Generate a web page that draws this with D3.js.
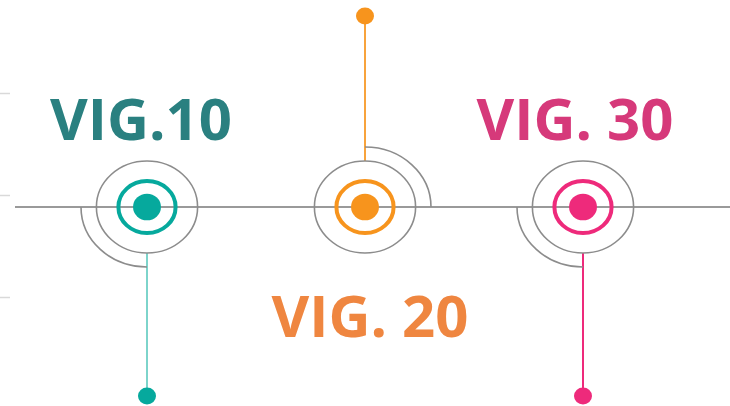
<!DOCTYPE html>
<html>
<head>
<meta charset="utf-8">
<script src="https://cdn.jsdelivr.net/npm/d3@7"></script>
<style>
  html, body { margin: 0; padding: 0; background: #fff; }
  svg { display: block; }
</style>
</head>
<body>
<div id="chart"></div>
<script>
// milestones on the timeline
var milestones = ["VIG.10", "VIG. 20", "VIG. 30"];
var dotColors = ["#06a99d", "#f7941d", "#ee2a7b"];
var stemColors = ["#7dd4cb", "#f8a33c", "#ee2a7b"];
var textColors = ["#2a8080", "#ef8640", "#d6397a"];
var sides = ["down", "up", "down"];      // which way the stem goes
var leftTicks = [1, 2, 3];

var width = 730, height = 406;
var lineY = 207;

var svg = d3.select("#chart")
	.append("svg")
	.attr("width", width)
	.attr("height", height);

var x = d3.scalePoint()
	.domain(milestones)
	.range([147, 583]);

var yTicks = d3.scaleLinear()
	.domain([0, 4])
	.range([-9, 399]);

// faint leftover ticks on the left edge
var axis = d3.axisLeft(yTicks).tickValues(leftTicks).tickSize(10).tickFormat("");
svg.append("g")
	.attr("transform", "translate(10,0)")
	.call(axis)
	.call(function(g){
		g.select(".domain").remove();
		g.selectAll("line").attr("stroke", "#d9d9d9").attr("stroke-width", 1.5);
	});

// main line
svg.append("line")
	.attr("x1", 15).attr("x2", width)
	.attr("y1", lineY).attr("y2", lineY)
	.attr("stroke", "#9a9a9a")
	.attr("stroke-width", 2);

var sx = 1.1; // picture is a bit wider than tall
var outerR = 46, ringR = 26, dotR = 13.3, arcR = 60;

var nodes = svg.selectAll("g.node")
	.data(milestones)
	.enter().append("g")
	.attr("class", "node")
	.attr("transform", function(d){ return "translate(" + x(d) + "," + lineY + ")"; });

// stems
nodes.append("line")
	.attr("x1", 0).attr("x2", 0)
	.attr("y1", function(d, i){ return sides[i] == "down" ? outerR : -outerR; })
	.attr("y2", function(d, i){ return sides[i] == "down" ? 189 : -191; })
	.attr("stroke", function(d, i){ return stemColors[i]; })
	.attr("stroke-width", 2);

nodes.append("ellipse")
	.attr("cx", 0)
	.attr("cy", function(d, i){ return sides[i] == "down" ? 189 : -191; })
	.attr("rx", 9).attr("ry", 8.5)
	.attr("fill", function(d, i){ return dotColors[i]; });

// quarter arcs
nodes.append("path")
	.attr("d", function(d, i){
		var rx = arcR * sx, ry = arcR;
		if (sides[i] == "down")
			return "M" + (-rx) + ",0 A" + rx + "," + ry + " 0 0 0 0," + ry;
		return "M0," + (-ry) + " A" + rx + "," + ry + " 0 0 1 " + rx + ",0";
	})
	.attr("fill", "none")
	.attr("stroke", "#8c8c8c")
	.attr("stroke-width", 1.6);

nodes.append("ellipse")
	.attr("rx", outerR * sx).attr("ry", outerR)
	.attr("fill", "none")
	.attr("stroke", "#8c8c8c")
	.attr("stroke-width", 1.6);

nodes.append("ellipse")
	.attr("rx", ringR * sx).attr("ry", ringR)
	.attr("fill", "none")
	.attr("stroke", function(d, i){ return dotColors[i]; })
	.attr("stroke-width", 4);

nodes.append("ellipse")
	.attr("rx", dotR * 1.05).attr("ry", dotR)
	.attr("fill", function(d, i){ return dotColors[i]; });

// labels
var labelWidths = [182, 197, 197];
nodes.append("text")
	.attr("x", function(d, i){ return [-6, 5, -8][i]; })
	.attr("y", function(d, i){ return sides[i] == "down" ? -67 : 130; })
	.attr("text-anchor", "middle")
	.attr("font-family", "Open Sans, sans-serif")
	.attr("font-weight", "bold")
	.attr("font-size", 58)
	.attr("textLength", function(d, i){ return labelWidths[i]; })
	.attr("lengthAdjust", "spacingAndGlyphs")
	.attr("fill", function(d, i){ return textColors[i]; })
	.text(function(d){ return d; });
</script>
</body>
</html>
